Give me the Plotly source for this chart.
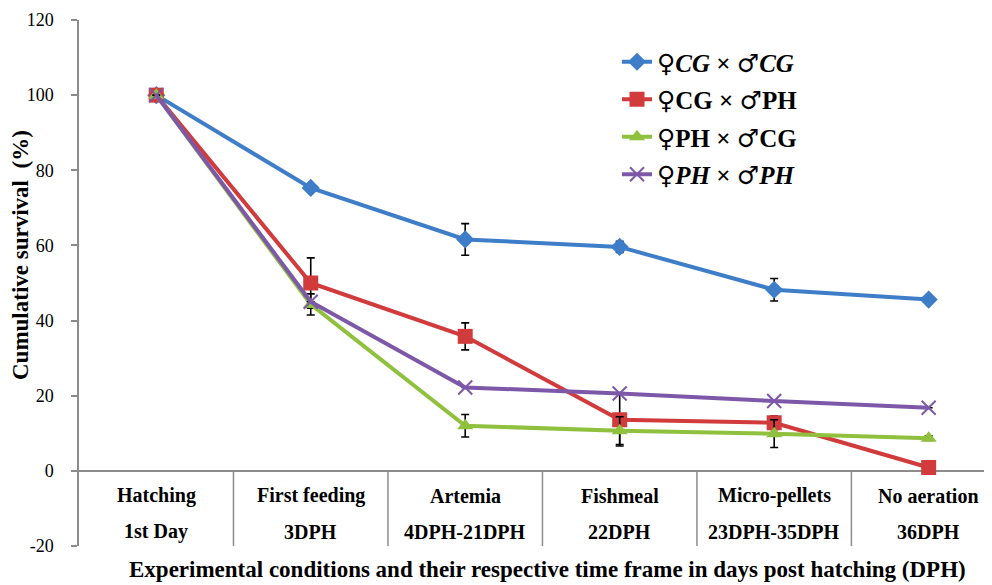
import plotly.graph_objects as go

stage_names = ["Hatching", "First feeding", "Artemia", "Fishmeal", "Micro-pellets", "No aeration"]
stage_days = ["1st Day", "3DPH", "4DPH-21DPH", "22DPH", "23DPH-35DPH", "36DPH"]
y_ticks = [-20, 0, 20, 40, 60, 80, 100, 120]
y_tick_text = [str(v) for v in y_ticks]

cg_cg = [100, 75.3, 61.6, 59.6, 48.2, 45.6]
cg_cg_err = [0, 0.8, 4.2, 1.5, 3.0, 0.6]
cg_ph = [100, 50.0, 35.8, 13.6, 12.8, 0.9]
cg_ph_err = [0, 6.7, 3.6, 7.0, 1.8, 0.5]
ph_cg = [100, 44.3, 12.0, 10.7, 9.9, 8.7]
ph_cg_err = [0, 2.8, 3.0, 3.7, 3.7, 0.6]
ph_ph = [100, 45.0, 22.2, 20.6, 18.6, 16.8]
ph_ph_err = [0, 0, 0, 0, 0, 0]

FEM = '<span style="font-family:DejaVu Serif;font-weight:normal">♀</span>'
MAL = '<span style="font-family:DejaVu Serif;font-weight:normal">♂</span>'

series = [
    (FEM + "<i>CG</i> × " + MAL + "<i>CG</i>", cg_cg, cg_cg_err, "#3E7EC9", "diamond", 14),
    (FEM + "CG × " + MAL + "PH", cg_ph, cg_ph_err, "#D13B3C", "square", 15),
    (FEM + "PH × " + MAL + "CG", ph_cg, ph_cg_err, "#8FC13E", "triangle-up", 14),
    (FEM + "<i>PH</i> × " + MAL + "<i>PH</i>", ph_ph, ph_ph_err, "#7D58A8", "x-thin", 14),
]

FONT = "Liberation Serif, Times New Roman, DejaVu Serif, serif"
x_idx = list(range(len(stage_names)))

fig = go.Figure()
for i, (name, vals, err, color, sym, size) in enumerate(series):
    marker = dict(symbol=sym, size=size, color=color)
    if sym == "x-thin":
        marker["line"] = dict(color=color, width=2)
    fig.add_trace(go.Scatter(
        x=x_idx, y=vals, mode="lines+markers", name="<b>" + name + "</b>",
        legendgroup="g%d" % i,
        line=dict(color=color, width=4),
        marker=marker,
        error_y=dict(type="data", array=err, symmetric=True, color="black",
                     thickness=1.6, width=4),
    ))

# category separators below the axis line
for i in range(len(stage_names) - 1):
    fig.add_shape(type="line", xref="x", yref="y", x0=i + 0.5, x1=i + 0.5,
                  y0=0, y1=-20.5, line=dict(color="#8c8c8c", width=1.5))

# two-line category labels
for i in x_idx:
    fig.add_annotation(x=i, y=-6.6, xref="x", yref="y", text="<b>%s</b>" % stage_names[i],
                       showarrow=False, xanchor="center", yanchor="middle",
                       font=dict(family=FONT, size=20, color="black"))
    fig.add_annotation(x=i, y=-16.2, xref="x", yref="y", text="<b>%s</b>" % stage_days[i],
                       showarrow=False, xanchor="center", yanchor="middle",
                       font=dict(family=FONT, size=20, color="black"))

fig.add_annotation(x=(547 - 79) / 913, y=-(569 - 546) / 526, xref="paper", yref="paper",
                   text="<b>Experimental conditions and their respective time frame in days post hatching (DPH)</b>",
                   showarrow=False, xanchor="center", yanchor="middle",
                   font=dict(family=FONT, size=23, color="black"))
fig.add_annotation(x=-(79 - 20) / 913, y=(546 - 255) / 526, xref="paper", yref="paper",
                   text="<b>Cumulative survival  (%)</b>", textangle=-90,
                   showarrow=False, xanchor="center", yanchor="middle",
                   font=dict(family=FONT, size=23, color="black"))

# page body has an 8px margin, so the figure is offset by 8px
fig.update_layout(
    width=984, height=577,
    margin=dict(l=71, r=0, t=12, b=39),
    paper_bgcolor="white", plot_bgcolor="white",
    showlegend=True,
    legend=dict(x=(617 - 79) / 913, y=(538 - 31) / 526, xanchor="left", yanchor="top",
                traceorder="grouped", tracegroupgap=2,
                font=dict(family=FONT, size=25, color="black"),
                bgcolor="rgba(0,0,0,0)"),
    xaxis=dict(range=[-0.5, 5.41], showticklabels=False, showgrid=False,
               zeroline=False, showline=False, ticks=""),
    yaxis=dict(range=[-20, 120], tickvals=y_ticks, ticktext=y_tick_text, showgrid=False,
               zeroline=True, zerolinecolor="#8c8c8c", zerolinewidth=1.5,
               showline=True, linecolor="#8c8c8c", linewidth=1.5,
               ticks="outside", ticklen=6, tickcolor="#8c8c8c", tickwidth=1.5,
               ticklabelstandoff=14,
               tickfont=dict(family=FONT, size=18, color="black")),
)

fig.write_html("out.html")
